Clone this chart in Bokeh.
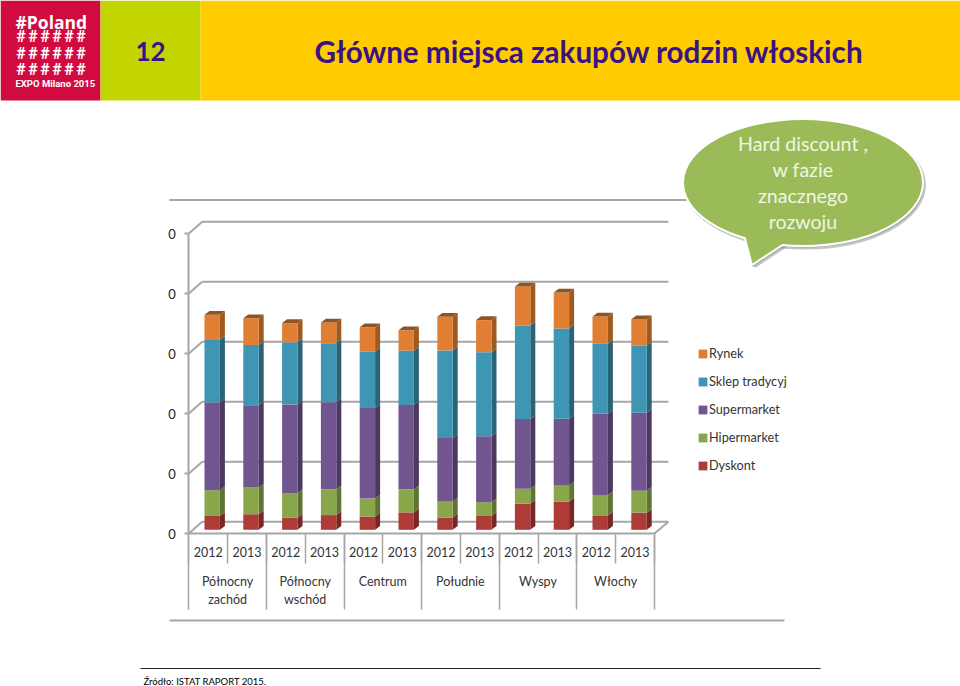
from bokeh.plotting import figure
from bokeh.models import Range1d, LinearAxis, FixedTicker, Legend, LegendItem, AllLabels
from bokeh.core.properties import value
from bokeh.embed import file_html
from bokeh.resources import INLINE

# ---- data ----
years = ["2012", "2013"]
regions = ["Północny\nzachód", "Północny\nwschód", "Centrum", "Południe", "Wyspy", "Włochy"]
dyskont     = [.046, .052, .040, .049, .044, .058, .041, .046, .087, .094, .048, .057]
hipermarket = [.086, .089, .082, .086, .060, .077, .053, .046, .050, .054, .068, .073]
supermarket = [.292, .274, .296, .290, .302, .281, .212, .220, .232, .222, .271, .260]
tradycyjny  = [.209, .201, .207, .197, .188, .181, .292, .280, .312, .301, .233, .224]
rynek       = [.084, .089, .064, .069, .081, .068, .112, .107, .130, .120, .091, .088]
series_names = ["Dyskont", "Hipermarket", "Supermarket", "Sklep tradycyj", "Rynek"]
y_ticks = [0, .2, .4, .6, .8, 1.0]
y_tick_labels = ["0", "0", "0", "0", "0", "0"]
title = "Główne miejsca zakupów rodzin włoskich"
callout = ["Hard discount ,", "w fazie", "znacznego", "rozwoju"]
source = "Źródło: ISTAT RAPORT 2015."

# ---- styles ----
front = ["#ae3b38", "#8aa64b", "#71558f", "#3e96b4", "#e07f34"]
side = ["#772826", "#5f7433", "#4c3961", "#296377", "#a0591f"]
top_col = "#8f5420"
grid = "#a6a6a6"
ink = "#3a1285"
txt = "#333333"
F = value("Lato")

W, H = 960, 686
CELL = 38.8          # px per category
X0, Y0 = 188.3, 533  # front-left floor corner in page px
VPX = 300            # px per unit of value
N = len(dyskont)

p = figure(width=W, height=H, output_backend="svg", toolbar_location=None,
           x_range=Range1d(0, W), y_range=Range1d(H, 0), min_border=0,
           x_axis_type=None, y_axis_type=None, outline_line_color=None)
p.grid.visible = False
p.extra_x_ranges["cat"] = Range1d(-X0 / CELL, (W - X0) / CELL)
p.extra_y_ranges["val"] = Range1d((Y0 - H) / VPX, Y0 / VPX)

# header
p.quad(left=[0], right=[100], top=[0], bottom=[100], color="#d10a40", line_color=None)
p.quad(left=[100], right=[200], top=[0], bottom=[100], color="#c3d500", line_color=None)
p.quad(left=[200], right=[960], top=[0], bottom=[100], color="#ffcc00", line_color=None)
p.text(x=[15], y=[21], text=["#Poland"], text_font=value("Open Sans"), text_font_style="bold",
       text_font_size="17.5px", text_color="white", text_baseline="middle")
hx, hy = [], []
for r in (36, 52.5, 69):
    for c in range(6):
        hx.append(20.5 + 12 * c); hy.append(r)
p.text(x=hx, y=hy, text=["#"] * 18, text_font=value("Roboto"), text_font_style="bold",
       text_font_size="16px", text_color="white", text_baseline="middle", text_align="center")
p.text(x=[15], y=[82.5], text=["EXPO Milano 2015"], text_font=value("Roboto"), text_font_style="bold",
       text_font_size="9.5px", text_color="white", text_baseline="middle")
p.text(x=[150], y=[51], text=["12"], text_font=F, text_font_style="bold", text_font_size="26px",
       text_color=ink, text_align="center", text_baseline="middle")
p.text(x=[314], y=[51], text=[title], text_font=F, text_font_style="bold", text_font_size="29.6px",
       text_color=ink, text_baseline="middle")

# frame lines, footer
p.segment(x0=[169, 169], x1=[686, 784], y0=[199.5, 620], y1=[199.5, 620], line_color=grid, line_width=2)
p.segment(x0=[140], x1=[820], y0=[668], y1=[668], line_color="#222222", line_width=1.2)
p.text(x=[143], y=[680.5], text=[source], text_font=F, text_font_size="9.5px", text_color="#000000",
       text_baseline="middle")

# chart walls
DX, DY = 13.4 / CELL, 11.7 / VPX
kw = dict(x_range_name="cat", y_range_name="val")
p.segment(x0=[DX] * 6, x1=[N + 14 / CELL] * 6, y0=[t + DY for t in y_ticks], y1=[t + DY for t in y_ticks],
          line_color=grid, line_width=2, **kw)
p.segment(x0=[0] * 6, x1=[DX] * 6, y0=y_ticks, y1=[t + DY for t in y_ticks], line_color=grid, line_width=2, **kw)
p.segment(x0=[N], x1=[N + 14 / CELL], y0=[0], y1=[DY], line_color=grid, line_width=2, **kw)

# bars
BW = 15.4 / CELL
BX = 4 / CELL
SX, SY = 5 / CELL, 3.8 / VPX
LIFT = 3.7 / VPX
ls = [i + .5 + BX - BW / 2 for i in range(N)]
rs = [l + BW for l in ls]
bottoms = [LIFT] * N
renderers = []
for vals, fc, sc, nm in zip([dyskont, hipermarket, supermarket, tradycyjny, rynek], front, side, series_names):
    tops = [b + v for b, v in zip(bottoms, vals)]
    p.patches(xs=[[r, r + SX, r + SX, r] for r in rs],
              ys=[[b, b + SY, t + SY, t] for b, t in zip(bottoms, tops)],
              fill_color=sc, line_color=None, **kw)
    renderers.append(p.quad(left=ls, right=rs, bottom=bottoms, top=tops, fill_color=fc, line_color=None, **kw))
    bottoms = tops
p.patches(xs=[[l, r, r + SX, l + SX] for l, r in zip(ls, rs)],
          ys=[[t, t, t + SY, t + SY] for t in bottoms], fill_color=top_col, line_color=None, **kw)

# axes
ya = LinearAxis(y_range_name="val", ticker=FixedTicker(ticks=y_ticks),
                major_label_overrides=dict(zip(y_ticks, y_tick_labels)), fixed_location=X0,
                bounds=(0, 1), axis_line_color=grid, axis_line_width=2, major_tick_line_color=grid,
                major_tick_line_width=2, major_tick_in=0, major_tick_out=4, minor_tick_line_color=None,
                major_label_text_font="Lato", major_label_text_font_size="13px", major_label_text_color="#222222",
                major_label_standoff=9)
p.add_layout(ya, "left")

centers = [i + .5 for i in range(N)]
xa = LinearAxis(x_range_name="cat", fixed_location=Y0, bounds=(0, N),
                ticker=FixedTicker(ticks=centers, minor_ticks=list(range(N + 1))),
                major_label_overrides={c: years[i % 2] for i, c in enumerate(centers)},
                major_label_policy=AllLabels(),
                axis_line_color=grid, axis_line_width=2, major_tick_line_color=None,
                minor_tick_line_color=grid, minor_tick_line_width=1.5, minor_tick_in=0, minor_tick_out=30,
                major_label_text_font="Lato", major_label_text_font_size="12.5px", major_label_text_color=txt,
                major_label_standoff=-17)
p.add_layout(xa, "below")

gcenters = [2 * i + 1 for i in range(len(regions))]
ga = LinearAxis(x_range_name="cat", fixed_location=Y0, bounds=(0, N),
                ticker=FixedTicker(ticks=gcenters, minor_ticks=list(range(0, N + 1, 2))),
                major_label_overrides=dict(zip(gcenters, regions)),
                major_label_policy=AllLabels(),
                axis_line_color=None, major_tick_line_color=None,
                minor_tick_line_color=grid, minor_tick_line_width=1.5, minor_tick_in=0, minor_tick_out=76,
                major_label_text_font="Lato", major_label_text_font_size="12.5px", major_label_text_color=txt,
                major_label_standoff=-36)
p.add_layout(ga, "below")

# legend
items = [LegendItem(label=n, renderers=[r]) for n, r in zip(series_names[::-1], renderers[::-1])]
leg = Legend(items=items, location=(697, H - 474), orientation="vertical", background_fill_color=None,
             border_line_color=None, padding=0, margin=0, spacing=10, glyph_width=11, glyph_height=11,
             label_height=18, label_standoff=1, label_text_font="Lato", label_text_font_size="12.7px",
             label_text_color=txt)
p.add_layout(leg, "center")

# callout
CX, CY, EW, EH = 802.5, 182, 238, 125
TAIL_X, TAIL_Y = [745, 752, 787], [236, 263, 240]
for dx, dy, col, lw, al in [(2, 2.5, "#7f7f7f", 4, .45), (0, 0, "white", 4, 1)]:
    p.ellipse(x=[CX + dx], y=[CY + dy], width=[EW], height=[EH], fill_color=col, line_color=col,
              line_width=lw, fill_alpha=al, line_alpha=al)
    p.patch(x=[v + dx for v in TAIL_X], y=[v + dy for v in TAIL_Y], fill_color=col, line_color=col,
            line_width=lw, fill_alpha=al, line_alpha=al)
p.ellipse(x=[CX], y=[CY], width=[EW], height=[EH], fill_color="#9bbb59", line_color=None)
p.patch(x=TAIL_X, y=TAIL_Y, fill_color="#9bbb59", line_color=None)
p.text(x=[CX] * 4, y=[143, 169, 195, 221], text=callout, text_font=F, text_font_size="19.6px",
       text_color="#f0f5e3", text_align="center", text_baseline="middle")

open("out.html", "w").write(file_html(p, INLINE))
